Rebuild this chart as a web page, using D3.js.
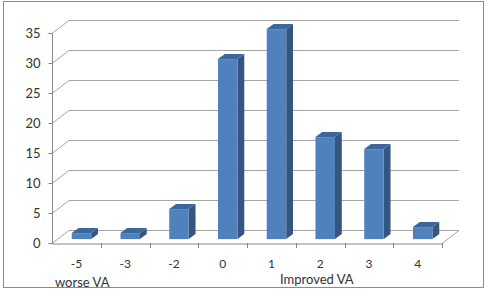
<!DOCTYPE html>
<html>
<head>
<meta charset="utf-8">
<script src="https://cdn.jsdelivr.net/npm/d3@7"></script>
<style>
  body { margin: 0; background: #fff; }
  text { font-family: Lato, "Open Sans", sans-serif; fill: #333; }
</style>
</head>
<body>
<div id="chart"></div>
<script>
// VA change categories and patient counts
const categories = ["-5", "-3", "-2", "0", "1", "2", "3", "4"];
const counts = [1, 1, 5, 30, 35, 17, 15, 2];
const yTicks = [0, 5, 10, 15, 20, 25, 30, 35];

const width = 491;
const height = 301;
const depth = [17, -13]; // 3d wall offset

const svg = d3.select("#chart")
    .append("svg")
    .attr("width", width)
    .attr("height", height);

// outer frame
svg.append("rect")
    .attr("x", 3.5).attr("y", 1.5)
    .attr("width", 480).attr("height", 286)
    .attr("fill", "white")
    .attr("stroke", "#8a8a8a");

const x = d3.scaleBand().domain(categories).range([52, 442]);
const y = d3.scaleLinear().domain([0, 35]).range([243, 33]);

// back wall gridlines
const grid = svg.append("g").attr("fill", "none").attr("stroke", "#a6a6a6");
yTicks.forEach(t => {
    const y0 = Math.round(y(t)) + 0.5;
    grid.append("path")
        .attr("d", `M52,${y0}L${52 + depth[0]},${y0 + depth[1]}H${442 + depth[0]}`);
});
// floor right edge
grid.append("path")
    .attr("d", `M442,${y(0) + 0.5}L${442 + depth[0]},${y(0) + 0.5 + depth[1]}`);

// bars
const front = 0.3, back = 0.7;
const bw = x.bandwidth() * 0.4;
const bars = svg.append("g");
categories.forEach((c, i) => {
    const x0 = x(c) + x.bandwidth() / 2 - bw / 2 + depth[0] * front;
    const yb = y(0) + depth[1] * front;
    const yt = y(counts[i]) + depth[1] * front;
    const dx = depth[0] * (back - front), dy = depth[1] * (back - front);
    // side
    bars.append("path")
        .attr("d", `M${x0 + bw},${yb}L${x0 + bw + dx},${yb + dy}L${x0 + bw + dx},${yt + dy}L${x0 + bw},${yt}Z`)
        .attr("fill", "#34557f");
    // top
    bars.append("path")
        .attr("d", `M${x0},${yt}L${x0 + dx},${yt + dy}L${x0 + bw + dx},${yt + dy}L${x0 + bw},${yt}Z`)
        .attr("fill", "#3d679c");
    // front
    bars.append("rect")
        .attr("x", x0).attr("y", yt)
        .attr("width", bw).attr("height", yb - yt)
        .attr("fill", "#4f81bd");
});

// y axis
const yAxis = svg.append("g")
    .attr("transform", "translate(52.5,0)")
    .call(d3.axisLeft(y).tickValues(yTicks).tickSize(4).tickPadding(8));
yAxis.select(".domain").attr("stroke", "#868686").attr("d", `M-4,${y(35) + 0.5}H0V${y(0) + 0.5}`);
yAxis.selectAll(".tick line").attr("stroke", "#868686");
yAxis.selectAll("text").style("font-size", "13px").attr("fill", "#333");

// x axis
const xAxis = svg.append("g")
    .attr("transform", `translate(0,${y(0) + 0.5})`)
    .call(d3.axisBottom(x).tickSize(0).tickPadding(16));
xAxis.select(".domain").attr("stroke", "#868686");
xAxis.selectAll("text").style("font-size", "12px").attr("fill", "#333");
// category separators
svg.append("g").selectAll("line")
    .data(categories.slice(1).concat(["end"]))
    .join("line")
    .attr("x1", d => d === "end" ? 442.5 : Math.round(x(d)) + 0.5)
    .attr("x2", d => d === "end" ? 442.5 : Math.round(x(d)) + 0.5)
    .attr("y1", y(0)).attr("y2", y(0) + 5)
    .attr("stroke", "#868686");

svg.append("text")
    .attr("x", 55).attr("y", 287)
    .style("font-size", "13px")
    .attr("fill", "#1f1f3a")
    .text("worse VA");

svg.append("text")
    .attr("x", 280).attr("y", 284)
    .style("font-size", "13px")
    .attr("fill", "#1f1f3a")
    .text("Improved VA");
</script>
</body>
</html>
